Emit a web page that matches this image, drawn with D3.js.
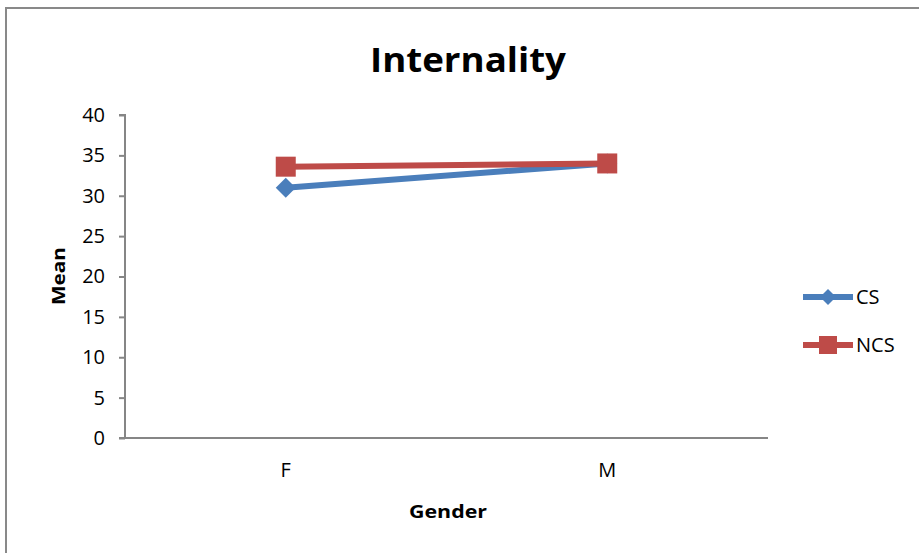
<!DOCTYPE html>
<html>
<head>
<meta charset="utf-8">
<script src="https://cdn.jsdelivr.net/npm/d3@7"></script>
<style>
  html, body { margin: 0; padding: 0; background: #fff; }
  svg { display: block; }
  text { font-family: "Open Sans", "Liberation Sans", sans-serif; fill: #000; }
</style>
</head>
<body>
<svg id="chart" width="919" height="553"></svg>
<script>
// Mean internality score by gender, for the two groups
const categories = ["F", "M"];
const csValues = [31.0, 34.0];
const ncsValues = [33.6, 34.0];
const yTicks = [0, 5, 10, 15, 20, 25, 30, 35, 40];
const seriesNames = ["CS", "NCS"];

const svg = d3.select("#chart");
const W = 919, H = 553;

// outer chart frame
svg.append("rect")
  .attr("x", 6).attr("y", 8)
  .attr("width", W + 20).attr("height", H + 20)
  .attr("fill", "#fff").attr("stroke", "#898989").attr("stroke-width", 2);

const plot = { left: 125, right: 768, top: 115, bottom: 438 };

const x = d3.scaleBand().domain(categories).range([plot.left, plot.right]);
const y = d3.scaleLinear().domain([0, 40]).range([plot.bottom, plot.top]);

// y axis
const yAxis = svg.append("g")
  .attr("transform", `translate(${plot.left},0)`)
  .call(d3.axisLeft(y).tickValues(yTicks).tickSize(6).tickPadding(14));
yAxis.select(".domain").attr("stroke", "#868686").attr("stroke-width", 2).attr("d", `M-6,${plot.top}H0V${plot.bottom}`);
yAxis.selectAll(".tick line").attr("stroke", "#868686").attr("stroke-width", 2);
yAxis.selectAll(".tick text").attr("font-size", 20).attr("font-family", "'Open Sans', sans-serif").attr("fill", "#000");

// x axis
const xAxis = svg.append("g")
  .attr("transform", `translate(0,${plot.bottom})`)
  .call(d3.axisBottom(x).tickSize(0).tickPadding(25));
xAxis.select(".domain").attr("stroke", "#868686").attr("stroke-width", 2).attr("d", `M${plot.left - 6},0H${plot.right}`);
xAxis.selectAll(".tick text").attr("font-size", 20).attr("font-family", "'Open Sans', sans-serif").attr("fill", "#000");

// titles
svg.append("text")
  .attr("x", 468).attr("y", 72)
  .attr("text-anchor", "middle")
  .attr("font-size", 34).attr("font-weight", "bold")
  .attr("textLength", 196).attr("lengthAdjust", "spacingAndGlyphs")
  .text("Internality");

svg.append("text")
  .attr("x", 448).attr("y", 518)
  .attr("text-anchor", "middle")
  .attr("font-size", 18).attr("font-weight", "bold")
  .attr("textLength", 78).attr("lengthAdjust", "spacingAndGlyphs")
  .text("Gender");

svg.append("text")
  .attr("transform", "translate(65,276) rotate(-90)")
  .attr("text-anchor", "middle")
  .attr("font-size", 18).attr("font-weight", "bold")
  .attr("textLength", 58).attr("lengthAdjust", "spacingAndGlyphs")
  .text("Mean");

// series
const series = [
  { name: seriesNames[0], values: csValues, color: "#4a7ebb", shape: d3.symbolDiamond },
  { name: seriesNames[1], values: ncsValues, color: "#be4b48", shape: d3.symbolSquare }
];

const cx = c => x(c) + x.bandwidth() / 2;
const line = d3.line().x((d, i) => cx(categories[i])).y(d => y(d));

function marker(g, s, px, py) {
  if (s.shape === d3.symbolSquare) {
    g.append("rect")
      .attr("x", px - 10).attr("y", py - 10).attr("width", 20).attr("height", 20)
      .attr("fill", s.color);
  } else {
    g.append("path")
      .attr("d", `M${px},${py - 10}L${px + 10},${py}L${px},${py + 10}L${px - 10},${py}Z`)
      .attr("fill", s.color);
  }
}

series.forEach(s => {
  const g = svg.append("g");
  g.append("path")
    .datum(s.values)
    .attr("d", line)
    .attr("fill", "none")
    .attr("stroke", s.color)
    .attr("stroke-width", 6)
    .attr("stroke-linecap", "round");
  s.values.forEach((v, i) => marker(g, s, cx(categories[i]), y(v)));
});

// legend
const legend = svg.append("g");
series.forEach((s, i) => {
  const ly = 297 + i * 48;
  legend.append("line")
    .attr("x1", 803).attr("x2", 853).attr("y1", ly).attr("y2", ly)
    .attr("stroke", s.color).attr("stroke-width", 6);
  if (s.shape === d3.symbolSquare) {
    legend.append("rect").attr("x", 819).attr("y", ly - 9).attr("width", 18).attr("height", 18).attr("fill", s.color);
  } else {
    legend.append("path").attr("d", `M828,${ly - 8}L836,${ly}L828,${ly + 8}L820,${ly}Z`).attr("fill", s.color);
  }
  legend.append("text")
    .attr("x", 856).attr("y", ly + 7)
    .attr("font-size", 20)
    .text(s.name);
});
</script>
</body>
</html>
